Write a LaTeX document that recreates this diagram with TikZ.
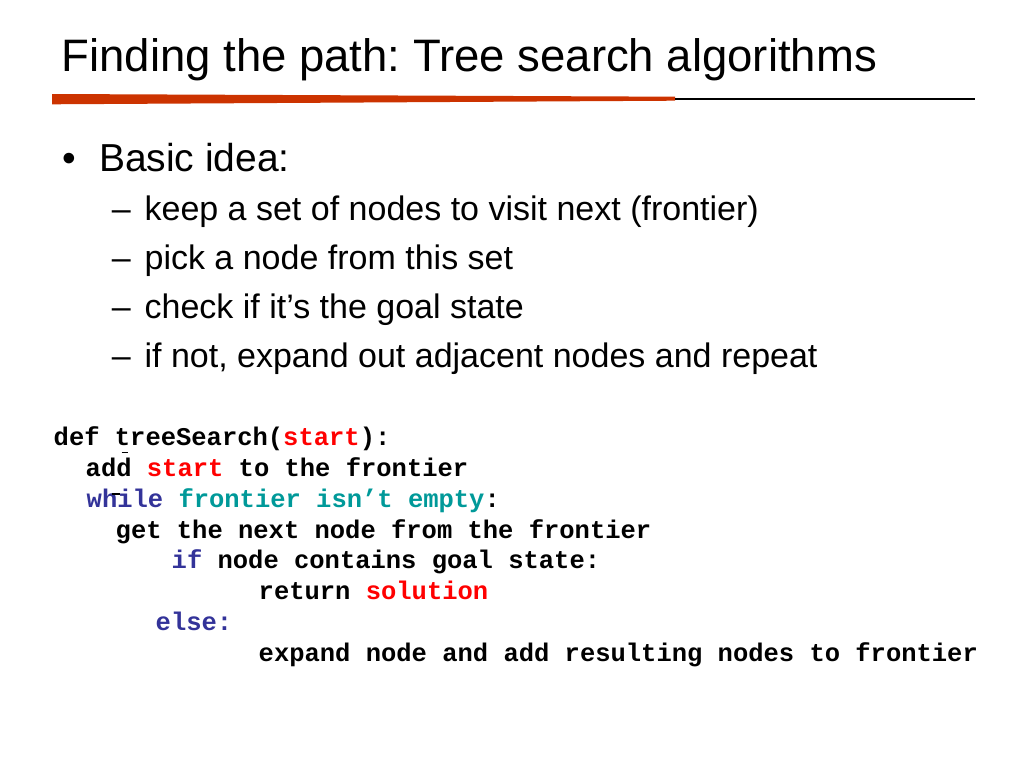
\documentclass[tikz,border=0pt]{standalone}
\usepackage{fontspec}
\setmainfont{Liberation Sans}
\setmonofont{Liberation Mono}
\usepackage{tikz}
\frenchspacing

\definecolor{rulered}{HTML}{CC3300}
\definecolor{kwblue}{HTML}{333399}
\definecolor{condteal}{HTML}{009999}
\definecolor{argred}{HTML}{FF0000}

\tikzset{
  titletext/.style={anchor=base west,inner sep=0pt,font=\fontsize{45.5}{50}\selectfont},
  bullettext/.style={anchor=base west,inner sep=0pt,font=\fontsize{39}{44}\selectfont},
  subtext/.style={anchor=base west,inner sep=0pt,font=\fontsize{34}{38}\selectfont},
  codeline/.style={anchor=base west,inner sep=0pt,font=\fontsize{25.5}{30}\selectfont\ttfamily\bfseries}
}

\begin{document}
\begin{tikzpicture}[x=1pt,y=-1pt]
\useasboundingbox (0,0) rectangle (1024,768);

% Title and rule
\node[titletext] (title) at (61.5,71) {Finding the path: Tree search algorithms};
\fill[rulered] (52,94) -- (675,96.7) -- (675,100.7) -- (52,104.3) -- cycle;
\draw[line width=2.8pt] (675,99) -- (975,99);

% Main bullet
\node[bullettext] (dot) at (62,171.7) {•};
\node[bullettext] (idea) at (98.8,171.7) {Basic idea:};

% Sub bullets
\foreach \i/\txt in {1/keep a set of nodes to visit next (frontier),
                     2/pick a node from this set,
                     3/check if it’s the goal state,
                     4/{if not, expand out adjacent nodes and repeat}} {
    \pgfmathsetmacro{\y}{220+49*(\i-1)}
    \node[subtext] (dash\i) at (111.7,\y) {–};
    \node[subtext] (sub\i) at (144.4,\y) {\txt};
}

% Code
\node[codeline] (code1) at (53.5,445) {def treeSearch(\textcolor{argred}{start}):};
\node[codeline] (code2) at (85.5,476) {add \textcolor{argred}{start} to the frontier};
\node[codeline] (code3) at (86.5,507) {\textcolor{kwblue}{while} \textcolor{condteal}{frontier isn’t empty}:};
\node[codeline] (code4) at (115.5,538) {get the next node from the frontier};
\node[codeline] (code5) at (171.5,568.5) {\textcolor{kwblue}{if} node contains goal state:};
\node[codeline] (code6) at (258.5,599) {return \textcolor{argred}{solution}};
\node[codeline] (code7) at (155.5,630) {\textcolor{kwblue}{else:}};
\node[codeline] (code8) at (258.5,661) {expand node and add resulting nodes to frontier};

% stray marks
\draw[line width=1.5pt] (121.7,452.7) -- (128.3,452.7);
\draw[line width=1.5pt] (111.7,494) -- (120,494);
\end{tikzpicture}
\end{document}
